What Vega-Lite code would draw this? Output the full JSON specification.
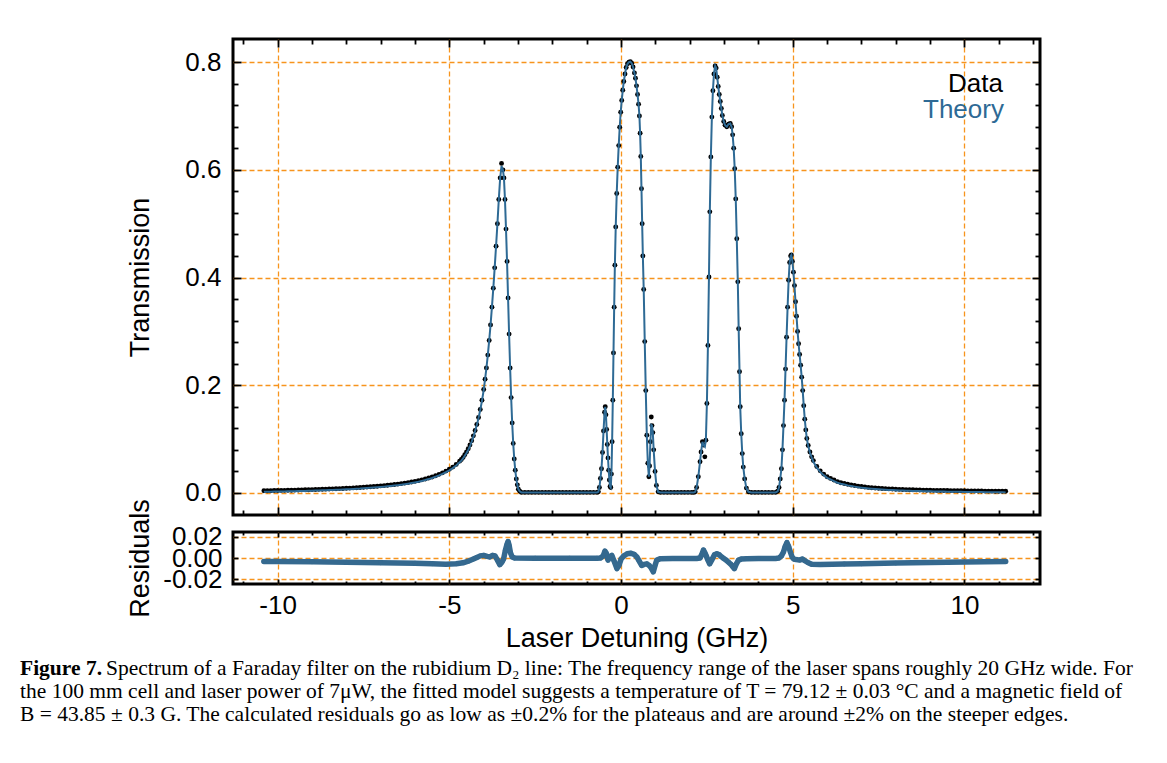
{
  "$schema": "https://vega.github.io/schema/vega-lite/v6.json",
  "padding": {"left": 20, "top": 36, "right": 10, "bottom": 10},
  "background": "white",
  "spacing": 17,
  "bounds": "flush",
  "title": {
    "text": "Figure 7.",
    "subtitle": [
      "\u200b\u2003\u2003\u2003\u2003Spectrum of a Faraday filter on the rubidium D₂ line: The frequency range of the laser spans roughly 20 GHz wide. For",
      "the 100 mm cell and laser power of 7μW, the fitted model suggests a temperature of T = 79.12 ± 0.03 °C and a magnetic field of",
      "B = 43.85 ± 0.3 G. The calculated residuals go as low as ±0.2% for the plateaus and are around ±2% on the steeper edges."
    ],
    "orient": "bottom",
    "anchor": "start",
    "frame": "group",
    "dx": -213,
    "offset": 5,
    "font": "Liberation Serif",
    "fontSize": 21.5,
    "fontWeight": "bold",
    "color": "black",
    "subtitleFont": "Liberation Serif",
    "subtitleFontSize": 21.5,
    "subtitleColor": "black",
    "subtitleLineHeight": 23,
    "subtitlePadding": -21.5
  },
  "datasets": {
    "spec": [
      {"x":-10.4,"d":0.004,"t":0.002},{"x":-10.3,"d":0.004,"t":0.002},{"x":-10.2,"d":0.004,"t":0.002},{"x":-10.1,"d":0.0045,"t":0.0025},{"x":-10.0,"d":0.0045,"t":0.0025},
      {"x":-9.9,"d":0.0047,"t":0.0027},{"x":-9.8,"d":0.0048,"t":0.0028},{"x":-9.7,"d":0.005,"t":0.003},{"x":-9.6,"d":0.005,"t":0.003},{"x":-9.5,"d":0.0052,"t":0.0032},
      {"x":-9.4,"d":0.0054,"t":0.0034},{"x":-9.3,"d":0.0056,"t":0.0036},{"x":-9.2,"d":0.0058,"t":0.0038},{"x":-9.1,"d":0.006,"t":0.004},{"x":-9.0,"d":0.0062,"t":0.0042},
      {"x":-8.9,"d":0.0064,"t":0.0044},{"x":-8.8,"d":0.0066,"t":0.0046},{"x":-8.7,"d":0.0068,"t":0.0048},{"x":-8.6,"d":0.007,"t":0.005},{"x":-8.5,"d":0.0072,"t":0.0052},
      {"x":-8.4,"d":0.0075,"t":0.0055},{"x":-8.3,"d":0.0078,"t":0.0058},{"x":-8.2,"d":0.008,"t":0.006},{"x":-8.1,"d":0.0083,"t":0.0063},{"x":-8.0,"d":0.0086,"t":0.0066},
      {"x":-7.9,"d":0.009,"t":0.007},{"x":-7.8,"d":0.0093,"t":0.0073},{"x":-7.7,"d":0.0097,"t":0.0077},{"x":-7.6,"d":0.010,"t":0.008},{"x":-7.5,"d":0.0105,"t":0.0085},
      {"x":-7.4,"d":0.011,"t":0.009},{"x":-7.3,"d":0.0115,"t":0.0095},{"x":-7.2,"d":0.012,"t":0.010},{"x":-7.1,"d":0.0125,"t":0.0105},{"x":-7.0,"d":0.013,"t":0.011},
      {"x":-6.9,"d":0.0136,"t":0.0116},{"x":-6.8,"d":0.0142,"t":0.0122},{"x":-6.7,"d":0.0149,"t":0.0129},{"x":-6.6,"d":0.0156,"t":0.0136},{"x":-6.5,"d":0.0164,"t":0.0144},
      {"x":-6.4,"d":0.0173,"t":0.0153},{"x":-6.3,"d":0.0182,"t":0.0162},{"x":-6.2,"d":0.0192,"t":0.0172},{"x":-6.1,"d":0.0203,"t":0.0183},{"x":-6.0,"d":0.0215,"t":0.0195},
      {"x":-5.9,"d":0.0228,"t":0.0208},{"x":-5.8,"d":0.0243,"t":0.0223},{"x":-5.7,"d":0.0259,"t":0.0239},{"x":-5.6,"d":0.0277,"t":0.0257},{"x":-5.5,"d":0.0297,"t":0.0277},
      {"x":-5.4,"d":0.032,"t":0.030},{"x":-5.3,"d":0.0345,"t":0.0325},{"x":-5.2,"d":0.0373,"t":0.0353},{"x":-5.1,"d":0.0405,"t":0.0385},{"x":-5.0,"d":0.044,"t":0.042},
      {"x":-4.9,"d":0.048,"t":0.046},{"x":-4.8,"d":0.053,"t":0.051},{"x":-4.7,"d":0.059,"t":0.057},{"x":-4.65,"d":0.062,"t":0.060},{"x":-4.6,"d":0.066,"t":0.064},
      {"x":-4.55,"d":0.071,"t":0.069},{"x":-4.5,"d":0.076,"t":0.074},{"x":-4.45,"d":0.082,"t":0.080},{"x":-4.4,"d":0.089,"t":0.087},{"x":-4.35,"d":0.097,"t":0.095},
      {"x":-4.3,"d":0.106,"t":0.104},{"x":-4.25,"d":0.116,"t":0.115},{"x":-4.2,"d":0.127,"t":0.126},{"x":-4.15,"d":0.140,"t":0.139},{"x":-4.1,"d":0.155,"t":0.154},
      {"x":-4.05,"d":0.172,"t":0.171},{"x":-4.0,"d":0.192,"t":0.191},{"x":-3.96,"d":0.211,"t":0.211},{"x":-3.92,"d":0.232,"t":0.232},{"x":-3.88,"d":0.256,"t":0.256},
      {"x":-3.84,"d":0.283,"t":0.283},{"x":-3.80,"d":0.312,"t":0.312},{"x":-3.76,"d":0.345,"t":0.345},{"x":-3.72,"d":0.380,"t":0.380},{"x":-3.68,"d":0.418,"t":0.418},
      {"x":-3.64,"d":0.458,"t":0.458},{"x":-3.60,"d":0.500,"t":0.500},{"x":-3.56,"d":0.545,"t":0.545},{"x":-3.52,"d":0.585,"t":0.585},{"x":-3.48,"d":0.612,"t":0.607},
      {"x":-3.44,"d":0.600,"t":0.600},{"x":-3.41,"d":0.585,"t":0.585},{"x":-3.38,"d":0.545,"t":0.545},{"x":-3.35,"d":0.490,"t":0.490},{"x":-3.32,"d":0.430,"t":0.430},
      {"x":-3.29,"d":0.362,"t":0.362},{"x":-3.26,"d":0.295,"t":0.295},{"x":-3.23,"d":0.232,"t":0.232},{"x":-3.20,"d":0.177,"t":0.177},{"x":-3.17,"d":0.130,"t":0.130},
      {"x":-3.14,"d":0.092,"t":0.092},{"x":-3.11,"d":0.063,"t":0.063},{"x":-3.08,"d":0.042,"t":0.042},{"x":-3.05,"d":0.026,"t":0.026},{"x":-3.02,"d":0.015,"t":0.015},
      {"x":-2.99,"d":0.007,"t":0.007},{"x":-2.95,"d":0.003,"t":0.003},{"x":-2.9,"d":0.001,"t":0.001},
      {"x":-2.8,"d":0.001,"t":0.001},{"x":-2.7,"d":0.001,"t":0.001},{"x":-2.6,"d":0.001,"t":0.001},{"x":-2.5,"d":0.001,"t":0.001},{"x":-2.4,"d":0.001,"t":0.001},
      {"x":-2.3,"d":0.001,"t":0.001},{"x":-2.2,"d":0.001,"t":0.001},{"x":-2.1,"d":0.001,"t":0.001},{"x":-2.0,"d":0.001,"t":0.001},{"x":-1.9,"d":0.001,"t":0.001},
      {"x":-1.8,"d":0.001,"t":0.001},{"x":-1.7,"d":0.001,"t":0.001},{"x":-1.6,"d":0.001,"t":0.001},{"x":-1.5,"d":0.001,"t":0.001},{"x":-1.4,"d":0.001,"t":0.001},
      {"x":-1.3,"d":0.001,"t":0.001},{"x":-1.2,"d":0.001,"t":0.001},{"x":-1.1,"d":0.001,"t":0.001},{"x":-1.0,"d":0.001,"t":0.001},{"x":-0.9,"d":0.001,"t":0.001},
      {"x":-0.8,"d":0.001,"t":0.001},{"x":-0.7,"d":0.001,"t":0.001},
      {"x":-0.66,"d":0.002,"t":0.002},{"x":-0.63,"d":0.010,"t":0.010},{"x":-0.60,"d":0.027,"t":0.027},{"x":-0.57,"d":0.045,"t":0.045},{"x":-0.54,"d":0.075,"t":0.075},
      {"x":-0.51,"d":0.115,"t":0.115},{"x":-0.48,"d":0.150,"t":0.150},{"x":-0.46,"d":0.160,"t":0.160},{"x":-0.44,"d":0.145,"t":0.145},{"x":-0.42,"d":0.118,"t":0.118},
      {"x":-0.40,"d":0.090,"t":0.090},{"x":-0.38,"d":0.065,"t":0.065},{"x":-0.36,"d":0.042,"t":0.042},{"x":-0.34,"d":0.024,"t":0.024},{"x":-0.32,"d":0.012,"t":0.012},
      {"x":-0.30,"d":0.010,"t":0.010},{"x":-0.28,"d":0.035,"t":0.035},{"x":-0.26,"d":0.095,"t":0.095},{"x":-0.24,"d":0.172,"t":0.172},{"x":-0.22,"d":0.260,"t":0.260},
      {"x":-0.20,"d":0.345,"t":0.345},{"x":-0.18,"d":0.423,"t":0.423},{"x":-0.155,"d":0.494,"t":0.494},{"x":-0.126,"d":0.556,"t":0.556},{"x":-0.097,"d":0.605,"t":0.605},
      {"x":-0.068,"d":0.645,"t":0.645},{"x":-0.039,"d":0.679,"t":0.679},{"x":-0.01,"d":0.707,"t":0.707},{"x":0.02,"d":0.729,"t":0.729},{"x":0.05,"d":0.748,"t":0.748},
      {"x":0.08,"d":0.764,"t":0.764},{"x":0.115,"d":0.778,"t":0.778},{"x":0.15,"d":0.790,"t":0.790},{"x":0.19,"d":0.797,"t":0.797},{"x":0.23,"d":0.800,"t":0.800},
      {"x":0.27,"d":0.801,"t":0.801},{"x":0.31,"d":0.798,"t":0.798},{"x":0.35,"d":0.791,"t":0.791},{"x":0.39,"d":0.780,"t":0.780},{"x":0.42,"d":0.770,"t":0.770},
      {"x":0.45,"d":0.756,"t":0.756},{"x":0.48,"d":0.740,"t":0.740},{"x":0.51,"d":0.722,"t":0.722},{"x":0.535,"d":0.700,"t":0.700},{"x":0.555,"d":0.668,"t":0.668},
      {"x":0.575,"d":0.625,"t":0.625},{"x":0.595,"d":0.565,"t":0.565},{"x":0.615,"d":0.500,"t":0.500},{"x":0.635,"d":0.440,"t":0.440},{"x":0.66,"d":0.378,"t":0.378},
      {"x":0.69,"d":0.281,"t":0.281},{"x":0.72,"d":0.190,"t":0.190},{"x":0.75,"d":0.107,"t":0.107},{"x":0.78,"d":0.055,"t":0.055},{"x":0.81,"d":0.030,"t":0.030},
      {"x":0.83,"d":0.050,"t":0.050},{"x":0.855,"d":0.095,"t":0.095},{"x":0.88,"d":0.141,"t":0.126},{"x":0.90,"d":0.125,"t":0.125},{"x":0.925,"d":0.112,"t":0.112},
      {"x":0.95,"d":0.080,"t":0.080},{"x":0.99,"d":0.040,"t":0.040},{"x":1.03,"d":0.014,"t":0.014},{"x":1.08,"d":0.002,"t":0.002},
      {"x":1.15,"d":0.001,"t":0.001},{"x":1.25,"d":0.001,"t":0.001},{"x":1.35,"d":0.001,"t":0.001},{"x":1.45,"d":0.001,"t":0.001},{"x":1.55,"d":0.001,"t":0.001},
      {"x":1.65,"d":0.001,"t":0.001},{"x":1.75,"d":0.001,"t":0.001},{"x":1.85,"d":0.001,"t":0.001},{"x":1.95,"d":0.001,"t":0.001},{"x":2.05,"d":0.001,"t":0.001},
      {"x":2.12,"d":0.001,"t":0.001},{"x":2.16,"d":0.002,"t":0.002},{"x":2.20,"d":0.010,"t":0.010},{"x":2.25,"d":0.030,"t":0.030},{"x":2.30,"d":0.058,"t":0.058},
      {"x":2.33,"d":0.076,"t":0.076},{"x":2.37,"d":0.095,"t":0.095},{"x":2.40,"d":0.089,"t":0.089},{"x":2.44,"d":0.067,"t":0.086},{"x":2.47,"d":0.098,"t":0.098},
      {"x":2.50,"d":0.166,"t":0.166},{"x":2.53,"d":0.274,"t":0.274},{"x":2.56,"d":0.401,"t":0.401},{"x":2.585,"d":0.522,"t":0.522},{"x":2.615,"d":0.624,"t":0.624},
      {"x":2.645,"d":0.698,"t":0.698},{"x":2.675,"d":0.747,"t":0.747},{"x":2.705,"d":0.778,"t":0.778},{"x":2.74,"d":0.793,"t":0.793},{"x":2.77,"d":0.789,"t":0.789},
      {"x":2.80,"d":0.772,"t":0.772},{"x":2.83,"d":0.755,"t":0.755},{"x":2.86,"d":0.740,"t":0.740},{"x":2.89,"d":0.727,"t":0.727},{"x":2.92,"d":0.714,"t":0.714},
      {"x":2.95,"d":0.701,"t":0.701},{"x":2.99,"d":0.690,"t":0.690},{"x":3.03,"d":0.683,"t":0.683},{"x":3.08,"d":0.680,"t":0.680},{"x":3.13,"d":0.685,"t":0.685},
      {"x":3.18,"d":0.686,"t":0.686},{"x":3.22,"d":0.680,"t":0.680},{"x":3.25,"d":0.665,"t":0.665},{"x":3.28,"d":0.640,"t":0.640},{"x":3.31,"d":0.602,"t":0.602},
      {"x":3.34,"d":0.546,"t":0.546},{"x":3.37,"d":0.472,"t":0.472},{"x":3.40,"d":0.392,"t":0.392},{"x":3.425,"d":0.305,"t":0.305},{"x":3.45,"d":0.225,"t":0.225},
      {"x":3.47,"d":0.160,"t":0.160},{"x":3.50,"d":0.110,"t":0.110},{"x":3.53,"d":0.073,"t":0.073},{"x":3.56,"d":0.048,"t":0.048},{"x":3.60,"d":0.026,"t":0.026},
      {"x":3.65,"d":0.009,"t":0.009},{"x":3.71,"d":0.002,"t":0.002},
      {"x":3.8,"d":0.001,"t":0.001},{"x":3.9,"d":0.001,"t":0.001},{"x":4.0,"d":0.001,"t":0.001},{"x":4.1,"d":0.001,"t":0.001},{"x":4.2,"d":0.001,"t":0.001},
      {"x":4.3,"d":0.001,"t":0.001},{"x":4.4,"d":0.001,"t":0.001},{"x":4.5,"d":0.001,"t":0.001},
      {"x":4.56,"d":0.003,"t":0.003},{"x":4.60,"d":0.010,"t":0.010},{"x":4.635,"d":0.026,"t":0.026},{"x":4.67,"d":0.045,"t":0.045},{"x":4.70,"d":0.080,"t":0.080},
      {"x":4.73,"d":0.125,"t":0.125},{"x":4.76,"d":0.172,"t":0.172},{"x":4.79,"d":0.230,"t":0.230},{"x":4.82,"d":0.289,"t":0.289},{"x":4.85,"d":0.345,"t":0.345},
      {"x":4.88,"d":0.395,"t":0.395},{"x":4.91,"d":0.428,"t":0.428},{"x":4.94,"d":0.440,"t":0.440},{"x":4.96,"d":0.442,"t":0.442},{"x":4.99,"d":0.430,"t":0.430},
      {"x":5.02,"d":0.410,"t":0.410},{"x":5.05,"d":0.385,"t":0.385},{"x":5.08,"d":0.355,"t":0.355},{"x":5.11,"d":0.328,"t":0.328},{"x":5.14,"d":0.300,"t":0.300},
      {"x":5.17,"d":0.277,"t":0.277},{"x":5.20,"d":0.257,"t":0.257},{"x":5.23,"d":0.237,"t":0.237},{"x":5.26,"d":0.215,"t":0.215},{"x":5.29,"d":0.190,"t":0.190},
      {"x":5.32,"d":0.162,"t":0.162},{"x":5.35,"d":0.137,"t":0.137},{"x":5.38,"d":0.117,"t":0.117},{"x":5.41,"d":0.101,"t":0.101},{"x":5.45,"d":0.088,"t":0.087},
      {"x":5.5,"d":0.076,"t":0.075},{"x":5.55,"d":0.067,"t":0.066},
      {"x":5.6,"d":0.060,"t":0.058},{"x":5.7,"d":0.049,"t":0.047},{"x":5.8,"d":0.041,"t":0.039},{"x":5.9,"d":0.035,"t":0.033},{"x":6.0,"d":0.030,"t":0.028},
      {"x":6.1,"d":0.027,"t":0.025},{"x":6.2,"d":0.024,"t":0.022},{"x":6.3,"d":0.021,"t":0.019},{"x":6.4,"d":0.019,"t":0.017},{"x":6.5,"d":0.0175,"t":0.0155},
      {"x":6.6,"d":0.016,"t":0.014},{"x":6.7,"d":0.0148,"t":0.0128},{"x":6.8,"d":0.0137,"t":0.0117},{"x":6.9,"d":0.0127,"t":0.0107},{"x":7.0,"d":0.0118,"t":0.0098},
      {"x":7.1,"d":0.011,"t":0.009},{"x":7.2,"d":0.0103,"t":0.0083},{"x":7.3,"d":0.0097,"t":0.0077},{"x":7.4,"d":0.0092,"t":0.0072},{"x":7.5,"d":0.0087,"t":0.0067},
      {"x":7.6,"d":0.0083,"t":0.0063},{"x":7.7,"d":0.0079,"t":0.0059},{"x":7.8,"d":0.0075,"t":0.0055},{"x":7.9,"d":0.0072,"t":0.0052},{"x":8.0,"d":0.0069,"t":0.0049},
      {"x":8.1,"d":0.0066,"t":0.0046},{"x":8.2,"d":0.0064,"t":0.0044},{"x":8.3,"d":0.0062,"t":0.0042},{"x":8.4,"d":0.006,"t":0.004},{"x":8.5,"d":0.0058,"t":0.0038},
      {"x":8.6,"d":0.0056,"t":0.0036},{"x":8.7,"d":0.0054,"t":0.0034},{"x":8.8,"d":0.0052,"t":0.0032},{"x":8.9,"d":0.0051,"t":0.0031},{"x":9.0,"d":0.005,"t":0.003},
      {"x":9.1,"d":0.0048,"t":0.0028},{"x":9.2,"d":0.0047,"t":0.0027},{"x":9.3,"d":0.0046,"t":0.0026},{"x":9.4,"d":0.0045,"t":0.0025},{"x":9.5,"d":0.0044,"t":0.0024},
      {"x":9.6,"d":0.0043,"t":0.0023},{"x":9.7,"d":0.0042,"t":0.0022},{"x":9.8,"d":0.0041,"t":0.0021},{"x":9.9,"d":0.004,"t":0.002},{"x":10.0,"d":0.0039,"t":0.0019},
      {"x":10.1,"d":0.0038,"t":0.0018},{"x":10.2,"d":0.0037,"t":0.0017},{"x":10.3,"d":0.0036,"t":0.0016},{"x":10.4,"d":0.0036,"t":0.0016},{"x":10.5,"d":0.0035,"t":0.0015},
      {"x":10.6,"d":0.0034,"t":0.0014},{"x":10.7,"d":0.0034,"t":0.0014},{"x":10.8,"d":0.0033,"t":0.0013},{"x":10.9,"d":0.0032,"t":0.0012},{"x":11.0,"d":0.0032,"t":0.0012},
      {"x":11.1,"d":0.0031,"t":0.0011},{"x":11.2,"d":0.003,"t":0.001}
    ],
    "res": [
      {"x":-10.4,"r":-0.0032},{"x":-10.0,"r":-0.0033},{"x":-9.0,"r":-0.0036},{"x":-8.0,"r":-0.004},{"x":-7.0,"r":-0.0045},
      {"x":-6.0,"r":-0.005},{"x":-5.5,"r":-0.0055},{"x":-5.1,"r":-0.006},{"x":-4.8,"r":-0.0055},{"x":-4.6,"r":-0.0045},
      {"x":-4.45,"r":-0.003},{"x":-4.3,"r":-0.001},{"x":-4.2,"r":0.0005},{"x":-4.1,"r":0.002},{"x":-4.0,"r":0.0025},
      {"x":-3.9,"r":0.0015},{"x":-3.82,"r":0.001},{"x":-3.74,"r":0.0025},{"x":-3.67,"r":0.002},{"x":-3.6,"r":-0.002},
      {"x":-3.53,"r":-0.0063},{"x":-3.47,"r":-0.004},{"x":-3.42,"r":-0.001},{"x":-3.37,"r":0.007},{"x":-3.32,"r":0.013},
      {"x":-3.29,"r":0.0155},{"x":-3.26,"r":0.012},{"x":-3.22,"r":0.005},{"x":-3.17,"r":0.001},{"x":-3.1,"r":0.0},
      {"x":-2.5,"r":-0.0003},{"x":-1.5,"r":-0.0003},{"x":-0.7,"r":-0.0003},{"x":-0.6,"r":0.0},{"x":-0.52,"r":0.002},
      {"x":-0.47,"r":0.0065},{"x":-0.43,"r":0.0045},{"x":-0.38,"r":-0.002},{"x":-0.33,"r":0.001},{"x":-0.27,"r":0.0025},
      {"x":-0.2,"r":-0.003},{"x":-0.12,"r":-0.01},{"x":-0.06,"r":-0.007},{"x":0.0,"r":-0.001},{"x":0.08,"r":0.002},
      {"x":0.18,"r":0.004},{"x":0.28,"r":0.0045},{"x":0.38,"r":0.0035},{"x":0.46,"r":0.001},{"x":0.53,"r":-0.003},
      {"x":0.6,"r":-0.007},{"x":0.67,"r":-0.006},{"x":0.75,"r":-0.0055},{"x":0.82,"r":-0.007},{"x":0.88,"r":-0.0095},
      {"x":0.94,"r":-0.013},{"x":0.99,"r":-0.007},{"x":1.04,"r":-0.002},{"x":1.15,"r":-0.0006},{"x":1.5,"r":-0.0005},
      {"x":2.2,"r":-0.0005},{"x":2.3,"r":0.0},{"x":2.36,"r":0.004},{"x":2.40,"r":0.0075},{"x":2.44,"r":0.005},
      {"x":2.48,"r":0.002},{"x":2.53,"r":-0.002},{"x":2.58,"r":-0.0055},{"x":2.64,"r":-0.002},{"x":2.72,"r":0.003},
      {"x":2.79,"r":0.004},{"x":2.86,"r":0.003},{"x":2.93,"r":0.001},{"x":2.99,"r":-0.0005},{"x":3.06,"r":-0.002},
      {"x":3.13,"r":-0.004},{"x":3.2,"r":-0.006},{"x":3.26,"r":-0.0085},{"x":3.3,"r":-0.01},{"x":3.35,"r":-0.006},
      {"x":3.42,"r":-0.002},{"x":3.5,"r":-0.001},{"x":3.66,"r":-0.0006},{"x":4.0,"r":-0.0005},{"x":4.5,"r":-0.0004},
      {"x":4.6,"r":0.0},{"x":4.67,"r":0.002},{"x":4.73,"r":0.0057},{"x":4.78,"r":0.011},{"x":4.83,"r":0.0146},
      {"x":4.88,"r":0.011},{"x":4.93,"r":0.0057},{"x":4.98,"r":0.001},{"x":5.03,"r":-0.001},{"x":5.1,"r":-0.0015},
      {"x":5.2,"r":-0.002},{"x":5.28,"r":-0.001},{"x":5.35,"r":-0.0025},{"x":5.45,"r":-0.0045},{"x":5.56,"r":-0.006},
      {"x":5.8,"r":-0.0062},{"x":6.5,"r":-0.0057},{"x":7.0,"r":-0.0054},{"x":8.0,"r":-0.0048},{"x":9.0,"r":-0.0042},
      {"x":10.0,"r":-0.0037},{"x":11.2,"r":-0.0032}
    ]
  },
  "vconcat": [
    {
      "width": 807,
      "height": 476,
      "data": {"name": "spec"},
      "layer": [
        {
          "mark": {"type": "circle", "size": 24, "color": "black", "opacity": 1},
          "encoding": {
            "x": {"field": "x", "type": "quantitative",
              "scale": {"domain": [-11.3, 12.2], "nice": false, "zero": false},
              "axis": {"orient": "bottom", "values": [-11,-10,-9,-8,-7,-6,-5,-4,-3,-2,-1,0,1,2,3,4,5,6,7,8,9,10,11,12],
                "labels": false, "title": null, "grid": true,
                "gridOpacity": {"condition": {"test": "datum.value % 5 === 0", "value": 1}, "value": 0},
                "tickSize": {"condition": {"test": "datum.value % 5 === 0", "value": -8}, "value": -5}}},
            "y": {"field": "d", "type": "quantitative",
              "scale": {"domain": [-0.041, 0.843], "nice": false, "zero": false},
              "axis": {"orient": "left", "values": [0,0.04,0.08,0.12,0.16,0.2,0.24,0.28,0.32,0.36,0.4,0.44,0.48,0.52,0.56,0.6,0.64,0.68,0.72,0.76,0.8],
                "labelExpr": "abs(datum.value*5-round(datum.value*5)) < 0.001 ? format(datum.value, '.1f') : ''",
                "grid": true,
                "gridOpacity": {"condition": {"test": "abs(datum.value*5-round(datum.value*5)) < 0.001", "value": 1}, "value": 0},
                "tickSize": {"condition": {"test": "abs(datum.value*5-round(datum.value*5)) < 0.001", "value": -8}, "value": -5},
                "labelPadding": 20,
                "title": "Transmission", "titleX": -93, "titleBaseline": "middle", "titleAnchor": "middle"}}
          }
        },
        {
          "mark": {"type": "line", "color": "#2e6a95", "strokeWidth": 2},
          "encoding": {
            "x": {"field": "x", "type": "quantitative",
              "axis": {"orient": "top", "values": [-11,-10,-9,-8,-7,-6,-5,-4,-3,-2,-1,0,1,2,3,4,5,6,7,8,9,10,11,12],
                "labels": false, "title": null, "grid": false,
                "tickSize": {"condition": {"test": "datum.value % 5 === 0", "value": -8}, "value": -5}}},
            "y": {"field": "t", "type": "quantitative",
              "axis": {"orient": "right", "values": [0,0.04,0.08,0.12,0.16,0.2,0.24,0.28,0.32,0.36,0.4,0.44,0.48,0.52,0.56,0.6,0.64,0.68,0.72,0.76,0.8],
                "labels": false, "title": null, "grid": false,
                "tickSize": {"condition": {"test": "abs(datum.value*5-round(datum.value*5)) < 0.001", "value": -8}, "value": -5}}}
          }
        },
        {
          "data": {"values": [{}]},
          "mark": {"type": "text", "text": "Data", "align": "right", "baseline": "middle", "font": "Liberation Sans", "fontSize": 26, "color": "black"},
          "encoding": {
            "x": {"datum": 11.12, "type": "quantitative", "axis": null},
            "y": {"datum": 0.759, "type": "quantitative", "axis": null}
          }
        },
        {
          "data": {"values": [{}]},
          "mark": {"type": "text", "text": "Theory", "align": "right", "baseline": "middle", "font": "Liberation Sans", "fontSize": 26, "color": "#2e6a95"},
          "encoding": {
            "x": {"datum": 11.15, "type": "quantitative", "axis": null},
            "y": {"datum": 0.711, "type": "quantitative", "axis": null}
          }
        }
      ],
      "resolve": {"axis": {"x": "independent", "y": "independent"}}
    },
    {
      "width": 807,
      "height": 52,
      "data": {"name": "res"},
      "layer": [
        {
          "mark": {"type": "line", "color": "#35698f", "strokeWidth": 5.5, "strokeCap": "round", "strokeJoin": "round"},
          "encoding": {
            "x": {"field": "x", "type": "quantitative",
              "scale": {"domain": [-11.3, 12.2], "nice": false, "zero": false},
              "axis": {"orient": "bottom", "values": [-11,-10,-9,-8,-7,-6,-5,-4,-3,-2,-1,0,1,2,3,4,5,6,7,8,9,10,11,12],
                "labelExpr": "datum.value % 5 === 0 ? '' + datum.value : ''",
                "labelPadding": 13,
                "title": "Laser Detuning (GHz)", "titlePadding": 5,
                "grid": true,
                "gridOpacity": {"condition": {"test": "datum.value % 5 === 0", "value": 1}, "value": 0},
                "tickSize": {"condition": {"test": "datum.value % 5 === 0", "value": -5}, "value": -3}}},
            "y": {"field": "r", "type": "quantitative",
              "scale": {"domain": [-0.0245, 0.0245], "nice": false, "zero": false},
              "axis": {"orient": "left", "values": [-0.02, 0, 0.02],
                "labelExpr": "replace(format(datum.value, '.2f'), '−', '-')",
                "grid": true, "tickSize": -5, "labelPadding": 16,
                "title": "Residuals", "titleX": -93, "titleBaseline": "middle", "titleAnchor": "middle"}}
          }
        },
        {
          "mark": {"type": "circle", "size": 24, "color": "#35698f", "opacity": 0.9},
          "encoding": {
            "x": {"field": "x", "type": "quantitative",
              "axis": {"orient": "top", "values": [-11,-10,-9,-8,-7,-6,-5,-4,-3,-2,-1,0,1,2,3,4,5,6,7,8,9,10,11,12],
                "labels": false, "title": null, "grid": false,
                "tickSize": {"condition": {"test": "datum.value % 5 === 0", "value": -5}, "value": -3}}},
            "y": {"field": "r", "type": "quantitative",
              "axis": {"orient": "right", "values": [-0.02, 0, 0.02], "labels": false, "title": null, "grid": false, "tickSize": -5}}
          }
        }
      ],
      "resolve": {"axis": {"x": "independent", "y": "independent"}}
    }
  ],
  "config": {
    "font": "Liberation Sans",
    "view": {"stroke": "black", "strokeWidth": 3},
    "axis": {
      "domain": false,
      "labelFont": "Liberation Sans", "labelFontSize": 26, "labelColor": "black",
      "labelOverlap": false, "labelFlush": false, "labelBound": false,
      "titleFont": "Liberation Sans", "titleFontSize": 27, "titleFontWeight": "normal", "titleColor": "black",
      "tickColor": "black", "tickWidth": 1.8,
      "gridColor": "#f7941d", "gridDash": [5, 3], "gridWidth": 1.3
    }
  }
}
